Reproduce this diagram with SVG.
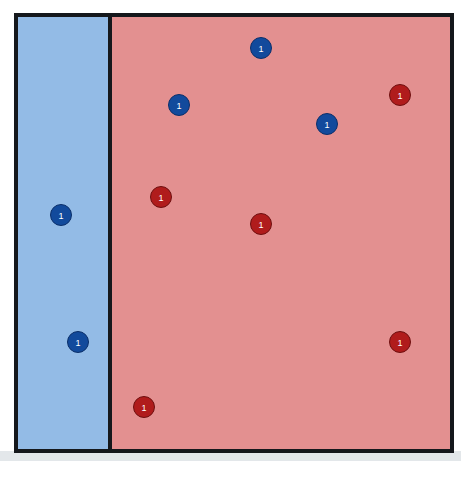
<svg xmlns="http://www.w3.org/2000/svg" width="461" height="477" viewBox="0 0 461 477">
<style>
.b{fill:#124a9c;stroke:#0b2f6a;stroke-width:1}
.r{fill:#b01c1c;stroke:#6e0f0f;stroke-width:1}
.t{fill:#ffffff;font-family:"Liberation Sans",Arial,sans-serif;font-size:9px;text-anchor:middle}
</style>
<rect x="0" y="0" width="461" height="477" fill="#ffffff"/>
<rect x="0" y="451" width="461" height="10" fill="#e3e7ea"/>
<g id="regionB"><rect x="16" y="15" width="94" height="436" fill="#93bbe6"/></g>
<g id="regionR"><rect x="110" y="15" width="342" height="436" fill="#e39090"/></g>
<g id="frame" fill="none" stroke="#15181c" stroke-width="4">
<rect x="16" y="15" width="436" height="436"/>
<line x1="110" y1="15" x2="110" y2="451"/>
</g>
<g id="b1"><circle class="b" cx="261" cy="48" r="10.5"/><text class="t" x="261" y="51.5">1</text></g>
<g id="b2"><circle class="b" cx="179" cy="105" r="10.5"/><text class="t" x="179" y="108.5">1</text></g>
<g id="b3"><circle class="b" cx="327" cy="124" r="10.5"/><text class="t" x="327" y="127.5">1</text></g>
<g id="b4"><circle class="b" cx="61" cy="215" r="10.5"/><text class="t" x="61" y="218.5">1</text></g>
<g id="b5"><circle class="b" cx="78" cy="342" r="10.5"/><text class="t" x="78" y="345.5">1</text></g>
<g id="r1"><circle class="r" cx="400" cy="95" r="10.5"/><text class="t" x="400" y="98.5">1</text></g>
<g id="r2"><circle class="r" cx="161" cy="197" r="10.5"/><text class="t" x="161" y="200.5">1</text></g>
<g id="r3"><circle class="r" cx="261" cy="224" r="10.5"/><text class="t" x="261" y="227.5">1</text></g>
<g id="r4"><circle class="r" cx="400" cy="342" r="10.5"/><text class="t" x="400" y="345.5">1</text></g>
<g id="r5"><circle class="r" cx="144" cy="407" r="10.5"/><text class="t" x="144" y="410.5">1</text></g>
<g id="connectors"></g>
</svg>
